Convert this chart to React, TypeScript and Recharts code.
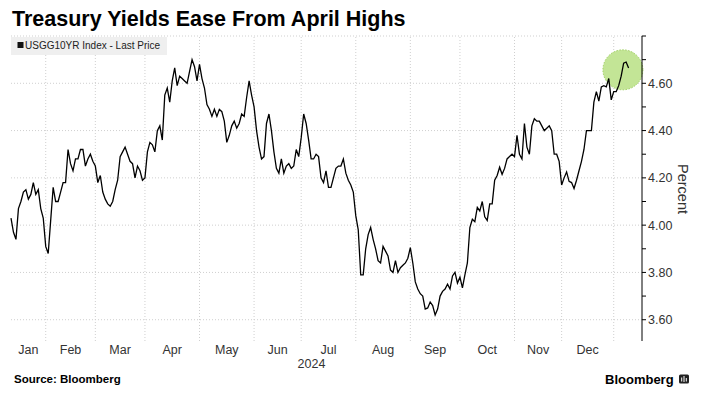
import { LineChart, Line, XAxis, YAxis, ReferenceLine, ReferenceDot } from 'recharts';

// USGG10YR daily closes, one entry per trading day (Jan 10 2024 .. Jan 9 2025)
const jan24 = [4.03, 3.97, 3.94, 4.07, 4.1, 4.14, 4.15, 4.11, 4.13, 4.18, 4.13, 4.15, 4.07, 4.03, 3.91];
const feb24 = [3.88, 4.02, 4.16, 4.1, 4.1, 4.14, 4.18, 4.18, 4.32, 4.26, 4.23, 4.28, 4.28, 4.32, 4.32, 4.25, 4.28, 4.3, 4.27, 4.25];
const mar24 = [4.18, 4.21, 4.14, 4.11, 4.09, 4.08, 4.1, 4.15, 4.19, 4.29, 4.31, 4.33, 4.3, 4.27, 4.26, 4.2, 4.25, 4.23, 4.19, 4.2];
const apr24 = [4.31, 4.35, 4.34, 4.31, 4.4, 4.42, 4.36, 4.55, 4.58, 4.52, 4.61, 4.665, 4.59, 4.63, 4.62, 4.61, 4.6, 4.65, 4.7, 4.67, 4.61, 4.68];
const may24 = [4.62, 4.58, 4.51, 4.49, 4.46, 4.49, 4.46, 4.49, 4.48, 4.44, 4.35, 4.38, 4.42, 4.44, 4.41, 4.43, 4.47, 4.46, 4.54, 4.61, 4.55, 4.5];
const jun24 = [4.4, 4.33, 4.28, 4.29, 4.43, 4.47, 4.4, 4.31, 4.24, 4.22, 4.28, 4.22, 4.25, 4.26, 4.24, 4.25, 4.32, 4.29, 4.37];
const jul24 = [4.47, 4.43, 4.36, 4.28, 4.28, 4.3, 4.29, 4.2, 4.18, 4.23, 4.16, 4.16, 4.2, 4.24, 4.25, 4.25, 4.28, 4.22, 4.19, 4.17, 4.14, 4.04];
const aug24 = [3.98, 3.79, 3.79, 3.9, 3.96, 3.99, 3.94, 3.9, 3.85, 3.84, 3.91, 3.89, 3.87, 3.81, 3.8, 3.85, 3.8, 3.82, 3.83, 3.84, 3.86, 3.905];
const sep24 = [3.84, 3.76, 3.73, 3.71, 3.7, 3.645, 3.65, 3.675, 3.66, 3.62, 3.645, 3.7, 3.72, 3.73, 3.75, 3.73, 3.785, 3.8, 3.755, 3.78];
const oct24 = [3.735, 3.79, 3.84, 3.99, 4.025, 4.015, 4.075, 4.06, 4.1, 4.035, 4.02, 4.09, 4.09, 4.19, 4.21, 4.245, 4.215, 4.24, 4.28, 4.29, 4.3, 4.29];
const nov24 = [4.38, 4.3, 4.28, 4.43, 4.33, 4.3, 4.42, 4.45, 4.44, 4.44, 4.42, 4.4, 4.41, 4.42, 4.4, 4.3, 4.3, 4.27, 4.17];
const dec24 = [4.2, 4.225, 4.185, 4.18, 4.155, 4.19, 4.23, 4.27, 4.32, 4.4, 4.4, 4.4, 4.52, 4.565, 4.525, 4.585, 4.59, 4.585, 4.62, 4.53, 4.565];
const jan25 = [4.565, 4.59, 4.63, 4.685, 4.69, 4.665];

const MONTHS = ['Jan', 'Feb', 'Mar', 'Apr', 'May', 'Jun', 'Jul', 'Aug', 'Sep', 'Oct', 'Nov', 'Dec'];
const Y_TICKS = [3.6, 3.7, 3.8, 3.9, 4.0, 4.1, 4.2, 4.3, 4.4, 4.5, 4.6, 4.7, 4.8];
const Y_LABELS = [3.6, 3.8, 4.0, 4.2, 4.4, 4.6];
const Y_GRID = [3.6, 3.8, 4.0, 4.2, 4.4, 4.6, 4.8];
const HIGHLIGHT = { i: 246.7, v: 4.657 };

const byMonth = [jan24, feb24, mar24, apr24, may24, jun24, jul24, aug24, sep24, oct24, nov24, dec24, jan25];
const data = byMonth.flat().map((v, i) => ({ i, v }));

// last trading day of each 2024 month -> grid lines; month labels sit between them
const monthEnds: number[] = [];
let count = 0;
byMonth.slice(0, 12).forEach((m) => {
  count += m.length;
  monthEnds.push(count - 1);
});
const monthCenters = monthEnds.map((end, k) => (k === 0 ? end / 2 : (monthEnds[k - 1] + end) / 2));

const FONT = '"Liberation Sans", Arial, sans-serif';
const GRID = '#cfcfcf';

function YTick(props: any) {
  const { x, y, payload } = props;
  if (!Y_LABELS.includes(payload.value)) return <g />;
  return (
    <text x={x} y={y} dy="0.36em" textAnchor="start" fontSize={12.5} fill="#333">
      {payload.value.toFixed(2)}
    </text>
  );
}

export default function App() {
  return (
    <div
      style={{
        position: 'absolute',
        left: 0,
        top: 0,
        width: 702,
        height: 396,
        background: '#fff',
        fontFamily: FONT,
      }}
    >
      <LineChart width={702} height={396} data={data} margin={{ top: 36, right: 10, bottom: 25, left: 11 }}>
        {monthEnds.map((e) => (
          <ReferenceLine key={'x' + e} x={e} stroke={GRID} strokeDasharray="1 2" zIndex={0} />
        ))}
        {Y_GRID.map((g) => (
          <ReferenceLine key={'y' + g} y={g} stroke={GRID} strokeDasharray="1 2" zIndex={0} />
        ))}
        <ReferenceDot
          x={HIGHLIGHT.i}
          y={HIGHLIGHT.v}
          r={20}
          fill="#c3e596"
          stroke="#9fd062"
          strokeDasharray="1.5 1.5"
          zIndex={1}
        />
        <XAxis
          dataKey="i"
          type="number"
          domain={[0, 254.4]}
          ticks={monthCenters}
          interval={0}
          tickFormatter={(v) => MONTHS[monthCenters.indexOf(v)]}
          axisLine={false}
          tickLine={false}
          tickSize={3}
          tickMargin={1}
          tick={{ fontSize: 12.5, fill: '#333' }}
          height={30}
        />
        <YAxis
          orientation="right"
          type="number"
          domain={[3.51, 4.8]}
          ticks={Y_TICKS}
          interval={0}
          width={50}
          tickSize={4}
          tickMargin={2}
          axisLine={{ stroke: '#000' }}
          tickLine={{ stroke: '#000' }}
          tick={<YTick />}
        />
        <Line dataKey="v" stroke="#000" strokeWidth={1.3} dot={false} isAnimationActive={false} zIndex={2} />
      </LineChart>

      <svg
        width={702}
        height={396}
        style={{ position: 'absolute', left: 0, top: 0, pointerEvents: 'none' }}
        fontFamily={FONT}
      >
        <text x={12} y={26} fontSize={21.5} fontWeight={700} fill="#000">
          Treasury Yields Ease From April Highs
        </text>

        <rect x={11} y={37} width={156} height={18} fill="#efefef" />
        <rect x={17.5} y={42} width={6} height={6} fill="#111" />
        <text x={25} y={48.5} fontSize={10} fill="#222">
          USGG10YR Index - Last Price
        </text>

        <text x={311.5} y={368} textAnchor="middle" fontSize={12.5} fill="#333">
          2024
        </text>

        <text transform="translate(677.5, 189) rotate(90)" textAnchor="middle" fontSize={14.5} fill="#333">
          Percent
        </text>

        <text x={14} y={383} fontSize={11.5} fontWeight={700} fill="#000">
          Source: Bloomberg
        </text>

        <text x={605} y={384} fontSize={13} fontWeight={700} fill="#000">
          Bloomberg
        </text>
        <rect x={679} y={374.5} width={10} height={9} rx={1.5} fill="#222" />
        <rect x={681.2} y={377.5} width={1} height={4} fill="#fff" />
        <rect x={683.5} y={376} width={1} height={6} fill="#fff" />
        <rect x={685.8} y={378} width={1} height={3.5} fill="#fff" />
      </svg>
    </div>
  );
}
